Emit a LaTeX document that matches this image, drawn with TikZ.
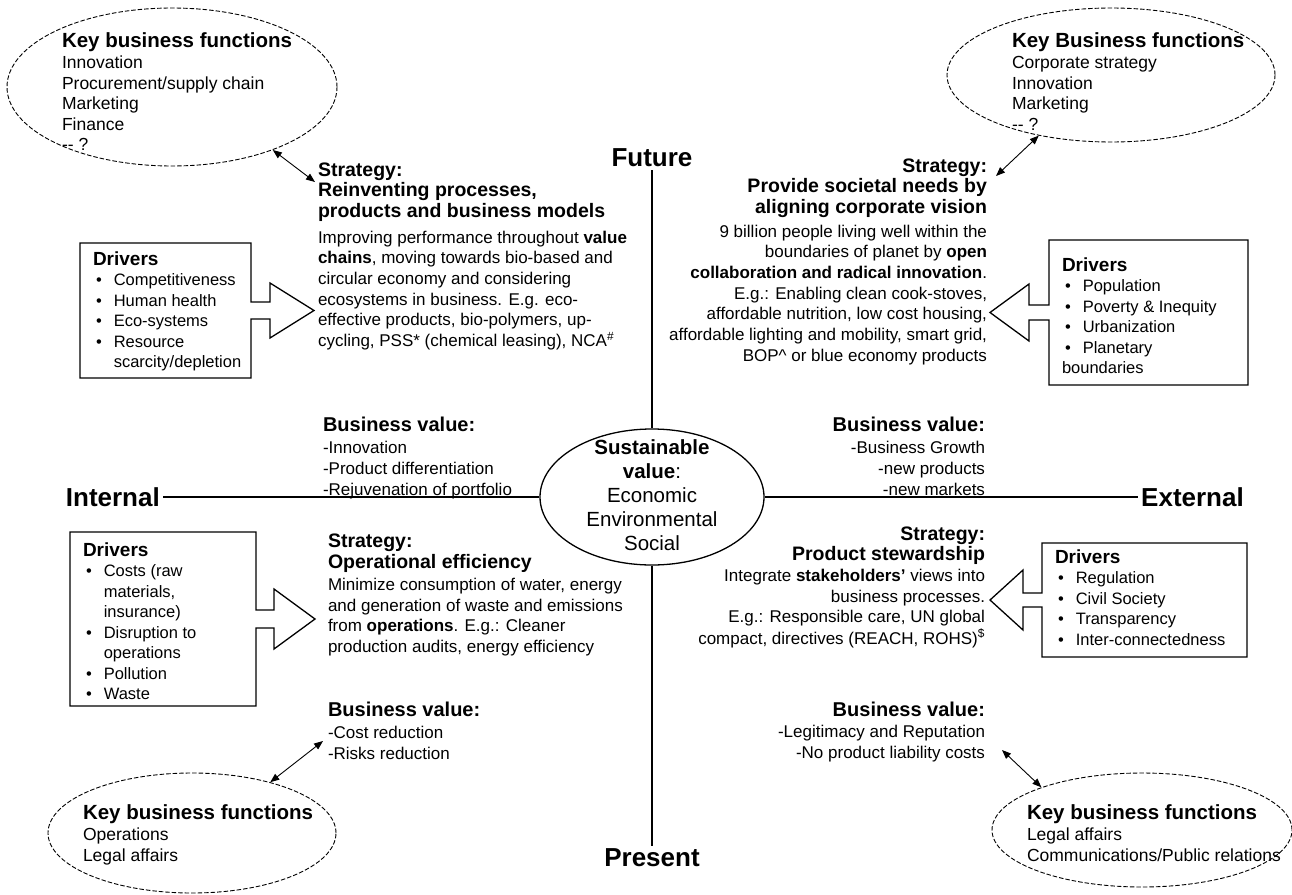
\documentclass[tikz,border=0pt]{standalone}
\usepackage{fontspec}
\setmainfont{Liberation Sans}
\usetikzlibrary{arrows.meta,shapes.geometric}
\newcommand{\bodyfnt}{\fontsize{17}{20.7}\selectfont}
\newcommand{\valfnt}{\fontsize{17}{20.7}\selectfont}
\newcommand{\headfnt}{\fontsize{19.5}{20.7}\selectfont\bfseries}
\newcommand{\valhead}{\fontsize{20}{20.7}\selectfont\bfseries}
\newcommand{\ellfnt}{\fontsize{17.5}{20.5}\selectfont}
\newcommand{\ellhead}{\fontsize{20.5}{20.5}\selectfont\bfseries}
\newcommand{\drvfnt}{\fontsize{16.5}{20.5}\selectfont}
\newcommand{\drvhead}{\fontsize{19}{20.5}\selectfont\bfseries}
\newcommand{\cenfnt}{\fontsize{20.5}{24}\selectfont}
\newcommand{\bul}{\hspace{3pt}\textbullet}
\begin{document}
\begin{tikzpicture}[x=1pt,y=-1pt,
  txt/.style={inner sep=0pt, outer sep=0pt},
  dashell/.style={ellipse, draw, dash pattern=on 4.5pt off 2pt, line width=0.9pt, inner sep=0pt},
  biarrow/.style={{Triangle[length=9pt,width=7pt]}-{Triangle[length=9pt,width=7pt]}, line width=0.9pt},
  axisline/.style={line width=1.3pt},
  blockarrow/.style={draw, line width=1.3pt, line join=miter},
  axlabel/.style={inner sep=3pt, font=\fontsize{26}{30}\selectfont\bfseries},
]
\fill[white] (0,0) rectangle (1292,894);
\useasboundingbox (0,0) rectangle (1292,894);

% ---------- centre ----------
\node[draw, ellipse, line width=1.3pt, minimum width=224pt, minimum height=136pt, inner sep=0pt] (center) at (652,497) {};
\node[txt, anchor=base] (centertxt) at (652,454) {\cenfnt\begin{tabular}[t]{@{}c@{}}\textbf{Sustainable}\\ \textbf{value}:\\ Economic\\ Environmental\\ Social\end{tabular}};

\node[axlabel] (future) at (652,158) {Future};
\node[axlabel] (present) at (652,858) {Present};
\node[axlabel, anchor=east] (internal) at (163,497) {Internal};
\node[axlabel, anchor=west] (external) at (1138,497) {External};

\draw[axisline] (future.south) -- (center.north);
\draw[axisline] (center.south) -- (present.north);
\draw[axisline] (internal.east) -- (center.west);
\draw[axisline] (center.east) -- (external.west);

% ---------- key business function ellipses ----------
\node[dashell, minimum width=330pt, minimum height=158pt] (tlell) at (172,87) {};
\node[txt, anchor=base west] (tlkbf) at (62,47) {\ellfnt\begin{tabular}[t]{@{}l@{}}{\ellhead Key business functions}\\[1pt] Innovation\\ Procurement/supply chain\\ Marketing\\ Finance\\ -{}- ?\end{tabular}};

\node[dashell, minimum width=328pt, minimum height=134pt] (trell) at (1111,75) {};
\node[txt, anchor=base west] (trkbf) at (1012,47) {\ellfnt\begin{tabular}[t]{@{}l@{}}{\ellhead Key Business functions}\\[1pt] Corporate strategy\\ Innovation\\ Marketing\\ -{}- ?\end{tabular}};

\node[dashell, minimum width=288pt, minimum height=120pt] (blell) at (192,833) {};
\node[txt, anchor=base west] (blkbf) at (83,819) {\ellfnt\begin{tabular}[t]{@{}l@{}}{\ellhead Key business functions}\\[1pt] Operations\\ Legal affairs\end{tabular}};

\node[dashell, minimum width=300pt, minimum height=114pt] (brell) at (1142,830) {};
\node[txt, anchor=base west] (brkbf) at (1027,819) {\ellfnt\begin{tabular}[t]{@{}l@{}}{\ellhead Key business functions}\\[1pt] Legal affairs\\ Communications/Public relations\end{tabular}};

% ---------- strategies ----------
\node[txt, anchor=base west] (tlstrat) at (318,176) {\bodyfnt\begin{tabular}[t]{@{}l@{}}{\headfnt Strategy:}\\ {\headfnt Reinventing processes,}\\ {\headfnt products and business models}\\[5pt] Improving performance throughout \textbf{value}\\ \textbf{chains}, moving towards bio-based and\\ circular economy and considering\\ ecosystems in business. E.g. eco-\\ effective products, bio-polymers, up-\\ cycling, PSS* (chemical leasing), NCA\textsuperscript{\#}\end{tabular}};

\node[txt, anchor=base east] (trstrat) at (987,172) {\bodyfnt\begin{tabular}[t]{@{}r@{}}{\headfnt Strategy:}\\ {\headfnt Provide societal needs by}\\ {\headfnt aligning corporate vision}\\[3pt] 9 billion people living well within the\\ boundaries of planet by \textbf{open}\\ \textbf{collaboration and radical innovation}.\\ E.g.: Enabling clean cook-stoves,\\ affordable nutrition, low cost housing,\\ affordable lighting and mobility, smart grid,\\ BOP\textasciicircum{} or blue economy products\end{tabular}};

\node[txt, anchor=base west] (blstrat) at (328,547) {\bodyfnt\begin{tabular}[t]{@{}l@{}}{\headfnt Strategy:}\\[1pt] {\headfnt Operational efficiency}\\[1pt] Minimize consumption of water, energy\\ and generation of waste and emissions\\ from \textbf{operations}. E.g.: Cleaner\\ production audits, energy efficiency\end{tabular}};

\node[txt, anchor=base east] (brstrat) at (985,540) {\bodyfnt\begin{tabular}[t]{@{}r@{}}{\headfnt Strategy:}\\ {\headfnt Product stewardship}\\ Integrate \textbf{stakeholders'} views into\\ business processes.\\ E.g.: Responsible care, UN global\\ compact, directives (REACH, ROHS)\textsuperscript{\$}\end{tabular}};

% ---------- business values ----------
\node[txt, anchor=base west] (tlval) at (323,431) {\valfnt\begin{tabular}[t]{@{}l@{}}{\valhead Business value:}\\[2pt] -Innovation\\ -Product differentiation\\ -Rejuvenation of portfolio\end{tabular}};
\node[txt, anchor=base east] (trval) at (985,431) {\valfnt\begin{tabular}[t]{@{}r@{}}{\valhead Business value:}\\[2pt] -Business Growth\\ -new products\\ -new markets\end{tabular}};
\node[txt, anchor=base west] (blval) at (328,716) {\valfnt\begin{tabular}[t]{@{}l@{}}{\valhead Business value:}\\[2pt] -Cost reduction\\ -Risks reduction\end{tabular}};
\node[txt, anchor=base east] (brval) at (985,716) {\valfnt\begin{tabular}[t]{@{}r@{}}{\valhead Business value:}\\[1pt] -Legitimacy and Reputation\\ -No product liability costs\end{tabular}};

% ---------- drivers with block arrows ----------
\draw[blockarrow] (80,243) -- (251,243) -- (251,302) -- (270,302) -- (270,283) -- (314,310.5) -- (270,338) -- (270,319) -- (251,319) -- (251,378) -- (80,378) -- cycle;
\node[txt, anchor=base west] (tldrv) at (93,265) {\drvfnt\begin{tabular}[t]{@{}l@{\hspace{12pt}}l@{}}\multicolumn{2}{@{}l@{}}{\drvhead Drivers}\\ \bul & Competitiveness\\ \bul & Human health\\ \bul & Eco-systems\\ \bul & Resource\\ & scarcity/depletion\end{tabular}};

\draw[blockarrow] (1049,240) -- (1248,240) -- (1248,385) -- (1049,385) -- (1049,320) -- (1029,320) -- (1029,341) -- (990,312.5) -- (1029,284) -- (1029,305) -- (1049,305) -- cycle;
\node[txt, anchor=base west] (trdrv) at (1062,271) {\drvfnt\begin{tabular}[t]{@{}l@{\hspace{12pt}}l@{}}\multicolumn{2}{@{}l@{}}{\drvhead Drivers}\\ \bul & Population\\ \bul & Poverty \& Inequity\\ \bul & Urbanization\\ \bul & Planetary\\ \multicolumn{2}{@{}l@{}}{boundaries}\end{tabular}};

\draw[blockarrow] (70,532) -- (256,532) -- (256,610) -- (274,610) -- (274,589) -- (315,619) -- (274,649) -- (274,628) -- (256,628) -- (256,706) -- (70,706) -- cycle;
\node[txt, anchor=base west] (bldrv) at (83,556) {\drvfnt\begin{tabular}[t]{@{}l@{\hspace{12pt}}l@{}}\multicolumn{2}{@{}l@{}}{\drvhead Drivers}\\ \bul & Costs (raw\\ & materials,\\ & insurance)\\ \bul & Disruption to\\ & operations\\ \bul & Pollution\\ \bul & Waste\end{tabular}};

\draw[blockarrow] (1042,543) -- (1247,543) -- (1247,657) -- (1042,657) -- (1042,607) -- (1023,607) -- (1023,630) -- (990,600) -- (1023,570) -- (1023,593) -- (1042,593) -- cycle;
\node[txt, anchor=base west] (brdrv) at (1055,563) {\drvfnt\begin{tabular}[t]{@{}l@{\hspace{12pt}}l@{}}\multicolumn{2}{@{}l@{}}{\drvhead Drivers}\\ \bul & Regulation\\ \bul & Civil Society\\ \bul & Transparency\\ \bul & Inter-connectedness\end{tabular}};

% ---------- double arrows ----------
\coordinate (tlarr) at (315,182);
\coordinate (trarr) at (996,176);
\coordinate (blarr) at (323,741);
\coordinate (brarr) at (1002,750);
\draw[biarrow] (tlell.-32) -- (tlarr);
\draw[biarrow] (trell.-140) -- (trarr);
\draw[biarrow] (blell.33) -- (blarr);
\draw[biarrow] (brell.157) -- (brarr);
\end{tikzpicture}
\end{document}
